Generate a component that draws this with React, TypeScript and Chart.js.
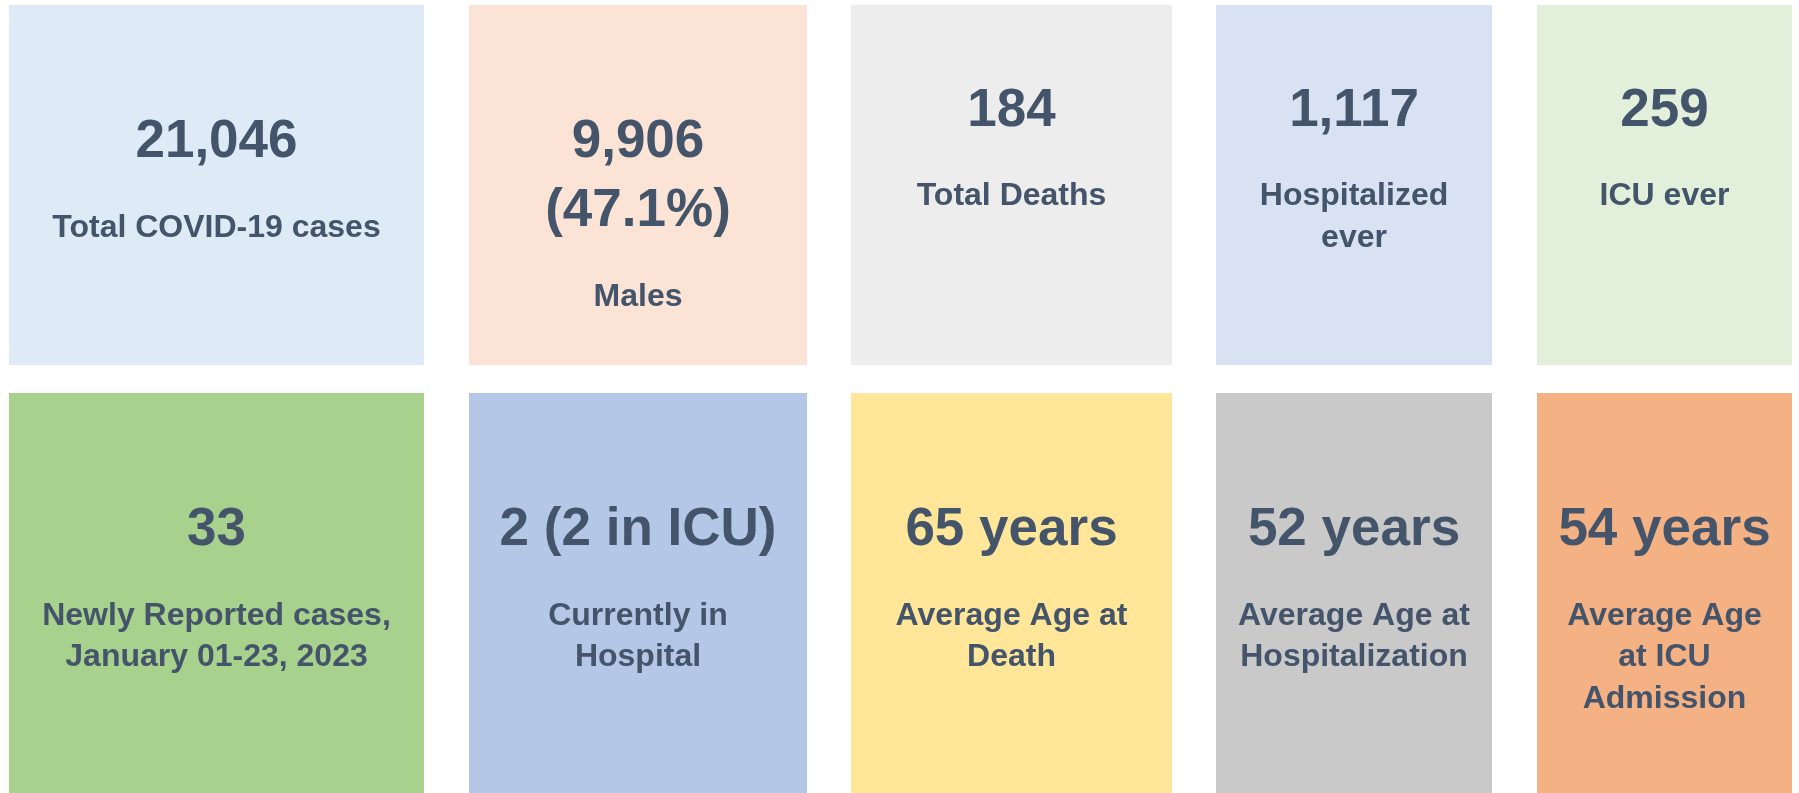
import React, { useEffect, useRef } from "react";
import { Chart, registerables } from "chart.js";

Chart.register(...registerables);

// ---- Data ----
const TILE_VALUES: string[] = [
  "21,046",
  "9,906\n(47.1%)",
  "184",
  "1,117",
  "259",
  "33",
  "2 (2 in ICU)",
  "65 years",
  "52 years",
  "54 years",
];

const TILE_LABELS: string[] = [
  "Total COVID-19 cases",
  "Males",
  "Total Deaths",
  "Hospitalized\never",
  "ICU ever",
  "Newly Reported cases,\nJanuary 01-23, 2023",
  "Currently in\nHospital",
  "Average Age at\nDeath",
  "Average Age at\nHospitalization",
  "Average Age\nat ICU\nAdmission",
];

// ---- Styles / layout ----
const TILE_COLORS: string[] = [
  "#DEEAF6",
  "#FBE4D6",
  "#EDEDED",
  "#D9E2F3",
  "#E2EFDA",
  "#A9D18E",
  "#B4C7E7",
  "#FFE699",
  "#C9C9C9",
  "#F4B183",
];
const COL_EDGES: [number, number][] = [
  [9, 424],
  [469, 807],
  [851, 1172],
  [1216, 1492],
  [1537, 1792],
];
const ROW_EDGES: [number, number][] = [
  [5, 365],
  [393, 793],
];
const LEAD_BLANK: number[] = [1, 1, 0, 0, 0, 1, 1, 1, 1, 1];

const W = 1799;
const H = 793;
const TEXT_COLOR = "#44546A";
const FONT_FAMILY = '"Liberation Sans", Arial, sans-serif';
const VALUE_SIZE = 53;
const LABEL_SIZE = 32;
const VALUE_LH = 69;
const LABEL_LH = 41.5;
const BLANK_LH = 31.5;
const TOP_PAD = 67.5;

const tilePlugin = {
  id: "tiles",
  beforeDatasetsDraw(chart: any) {
    const ctx = chart.ctx;
    const xs = chart.scales.x;
    const ys = chart.scales.y;
    ctx.save();
    TILE_VALUES.forEach((val, i) => {
      const col = i % 5;
      const row = Math.floor(i / 5);
      const [x0v, x1v] = COL_EDGES[col];
      const [y0v, y1v] = ROW_EDGES[row];
      const x0 = xs.getPixelForValue(x0v);
      const x1 = xs.getPixelForValue(x1v);
      const y0 = ys.getPixelForValue(y0v);
      const y1 = ys.getPixelForValue(y1v);
      ctx.fillStyle = TILE_COLORS[i];
      ctx.fillRect(Math.min(x0, x1), Math.min(y0, y1), Math.abs(x1 - x0), Math.abs(y1 - y0));

      const cx = xs.getPixelForValue((x0v + x1v) / 2);
      let cursor = y0v + TOP_PAD + (LEAD_BLANK[i] ? BLANK_LH : 0);
      ctx.fillStyle = TEXT_COLOR;
      ctx.textAlign = "center";
      ctx.textBaseline = "alphabetic";
      ctx.font = `bold ${VALUE_SIZE}px ${FONT_FAMILY}`;
      val.split("\n").forEach((line) => {
        const center = cursor + VALUE_LH / 2;
        ctx.fillText(line, cx, ys.getPixelForValue(center + 0.358 * VALUE_SIZE));
        cursor += VALUE_LH;
      });
      cursor += BLANK_LH;
      ctx.font = `bold ${LABEL_SIZE}px ${FONT_FAMILY}`;
      TILE_LABELS[i].split("\n").forEach((line) => {
        const center = cursor + LABEL_LH / 2;
        ctx.fillText(line, cx, ys.getPixelForValue(center + 0.358 * LABEL_SIZE));
        cursor += LABEL_LH;
      });
    });
    ctx.restore();
  },
};

export default function App() {
  const ref = useRef<HTMLCanvasElement | null>(null);
  useEffect(() => {
    document.body.style.margin = "0";
    document.body.style.overflow = "hidden";
    const canvas = ref.current;
    if (!canvas) return;
    const centers = TILE_VALUES.map((_, i) => {
      const [a, b] = COL_EDGES[i % 5];
      const [c, d] = ROW_EDGES[Math.floor(i / 5)];
      return { x: (a + b) / 2, y: (c + d) / 2 };
    });
    const chart = new Chart(canvas, {
      type: "scatter",
      data: {
        datasets: [
          {
            label: "tiles",
            data: centers,
            pointRadius: 0,
            pointHoverRadius: 0,
          },
        ],
      },
      options: {
        animation: false,
        responsive: false,
        devicePixelRatio: 1,
        layout: { padding: 0 },
        events: [],
        plugins: {
          legend: { display: false },
          tooltip: { enabled: false },
          title: { display: false },
        },
        scales: {
          x: { type: "linear", min: 0, max: W, display: false },
          y: { type: "linear", min: 0, max: H, reverse: true, display: false },
        },
      },
      plugins: [tilePlugin],
    });
    return () => chart.destroy();
  }, []);
  return (
    <div style={{ width: W, height: H, background: "#ffffff" }}>
      <canvas ref={ref} width={W} height={H} style={{ display: "block" }} />
    </div>
  );
}
